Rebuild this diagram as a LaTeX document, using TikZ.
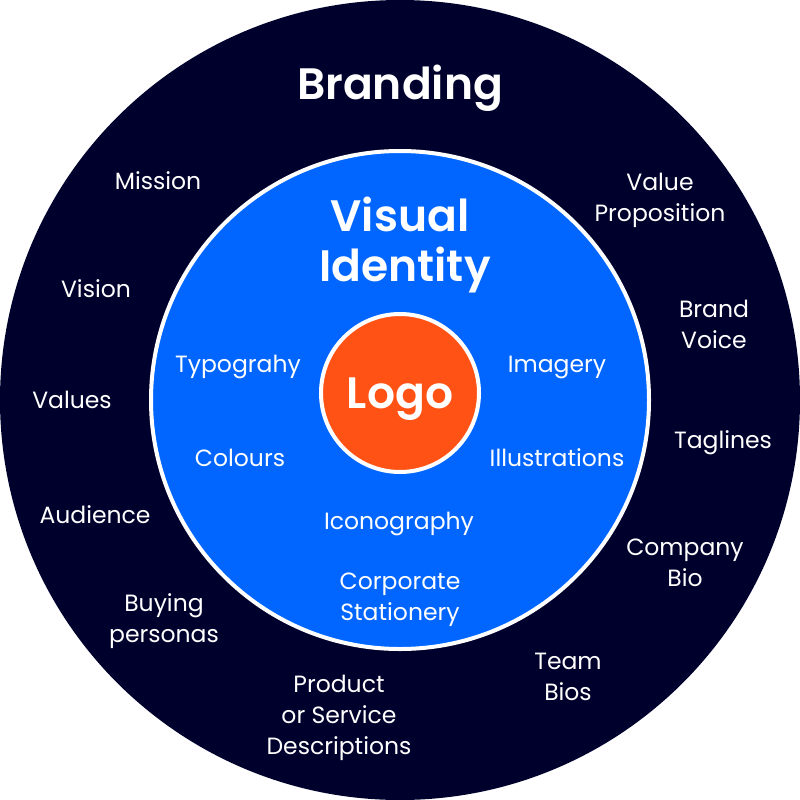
\documentclass[tikz,border=0pt]{standalone}
\usepackage{fontspec}
\setmainfont{Poppins}
\newfontfamily\headfont{Poppins SemiBold}
\definecolor{navy}{HTML}{00002D}
\definecolor{brandblue}{HTML}{0066FF}
\definecolor{logored}{HTML}{FF5214}
\tikzset{
  outerlabel/.style={text=white, font=\fontsize{23.5}{31}\selectfont, align=center},
  biglabel/.style={text=white, font=\fontsize{44}{50}\selectfont\headfont, align=center},
}
\begin{document}
\begin{tikzpicture}[x=1pt,y=-1pt]

  \useasboundingbox (0,0) rectangle (800,800);
  \node[circle, fill=navy, minimum size=800pt, inner sep=0pt] (outer) at (400,400) {};
  \node[circle, fill=brandblue, draw=white, line width=4pt, minimum size=498pt, inner sep=0pt] (middle) at (400,400) {};
  \node[circle, fill=logored, draw=white, line width=4pt, minimum size=158pt, inner sep=0pt] (core) at (400,393) {};

  \node[biglabel] (branding) at (400,88) {Branding};
  \node[biglabel] (visual) at (400,245) {Visual\\\hspace*{10pt}Identity};
  \node[biglabel] (logo) at (400,399) {Logo};

  % outer ring
  \node[outerlabel] (mission) at (158,181) {Mission};
  \node[outerlabel] (vision) at (96,289) {Vision};
  \node[outerlabel] (values) at (72,400) {Values};
  \node[outerlabel] (audience) at (95,515) {Audience};
  \node[outerlabel] (buying) at (164,621) {Buying\\personas};
  \node[outerlabel] (product) at (339,718) {Product\\or Service\\Descriptions};
  \node[outerlabel] (team) at (568,677) {Team\\Bios};
  \node[outerlabel] (company) at (685,563) {Company\\Bio};
  \node[outerlabel] (taglines) at (723,443) {Taglines};
  \node[outerlabel] (voice) at (714,324) {Brand\\Voice};
  \node[outerlabel] (proposition) at (660,200) {Value\\Proposition};

  % blue ring
  \node[outerlabel] (typo) at (238,367) {Typograhy};
  \node[outerlabel] (imagery) at (557,367) {Imagery};
  \node[outerlabel] (colours) at (240,458) {Colours};
  \node[outerlabel] (illus) at (557,458) {Illustrations};
  \node[outerlabel] (icono) at (399,524) {Iconography};
  \node[outerlabel] (stationery) at (400,600) {Corporate\\Stationery};

\end{tikzpicture}
\end{document}
